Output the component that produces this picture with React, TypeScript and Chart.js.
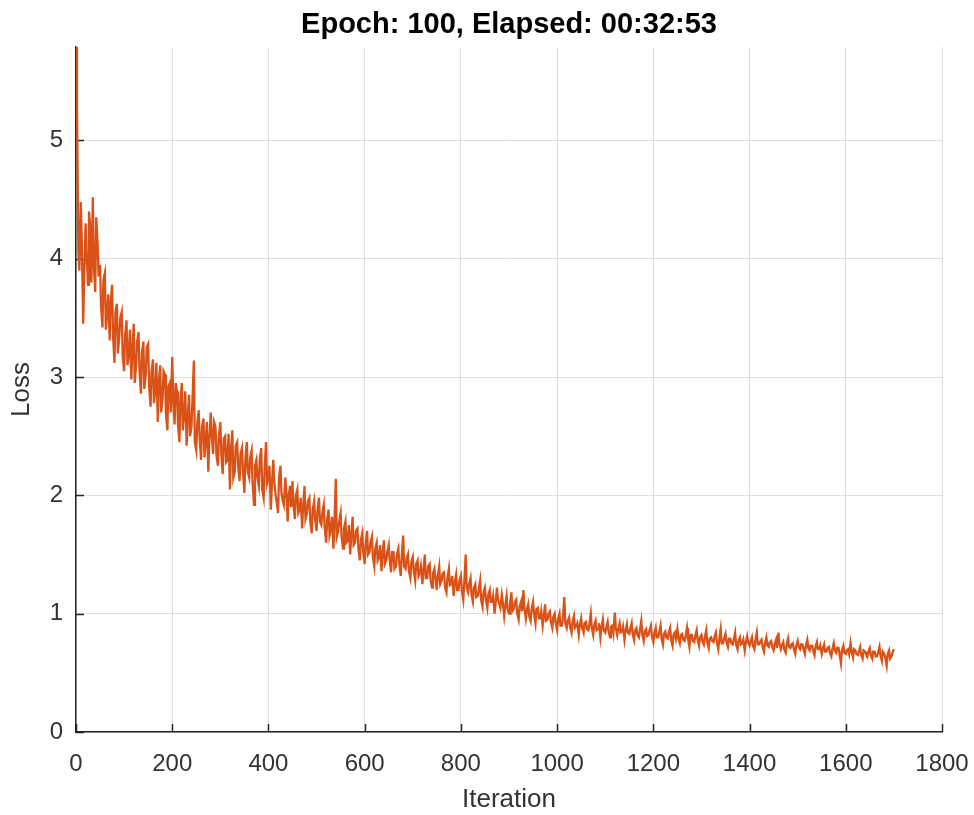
import React, { useEffect, useRef } from "react";
import { Chart, registerables } from "chart.js";

Chart.register(...registerables);

// Loss samples.
// lossValues: iterations 0, 5, 10, ... 1700; midValues: iterations 2, 7, 12, ... 1697
const ITER_STEP = 5;
const MID_OFFSET = 2;

const loss0to495 = [
  5.79, 4.05, 4.48, 3.45, 4.3, 3.78, 4.25, 4.52, 3.72, 4.12,
  3.95, 3.42, 3.88, 3.55, 3.31, 3.78, 3.12, 3.62, 3.35, 3.55,
  3.05, 3.48, 3.2, 2.98, 3.45, 3.1, 3.38, 2.86, 3.3, 3.02,
  3.28, 2.75, 3.15, 2.9, 2.62, 3.1, 2.82, 3.02, 2.55, 2.95,
  3.17, 2.6, 2.88, 2.45, 2.95, 2.7, 2.42, 2.85, 2.58, 3.14,
  2.38, 2.72, 2.3, 2.65, 2.48, 2.2, 2.7, 2.35, 2.58, 2.25,
  2.62, 2.18, 2.5, 2.3, 2.05, 2.55, 2.2, 2.45, 2.12, 2.4,
  2.02, 2.45, 2.15, 2.38, 1.92, 2.3, 2.08, 2.4, 1.98, 2.45,
  2.15, 1.88, 2.3, 2.0, 1.85, 2.25, 1.95, 2.15, 1.78, 2.08,
  2.12, 1.8, 2.05, 1.88, 1.72, 2.08, 1.85, 1.98, 1.68, 1.95,
];

const loss500to995 = [
  1.7, 1.98, 1.75, 1.92, 1.6, 1.88, 1.72, 1.55, 2.14, 1.7,
  1.85, 1.55, 1.78, 1.62, 1.5, 1.82, 1.6, 1.72, 1.45, 1.68,
  1.42, 1.7, 1.52, 1.65, 1.4, 1.6, 1.48, 1.36, 1.62, 1.45,
  1.58, 1.35, 1.52, 1.4, 1.55, 1.32, 1.66, 1.38, 1.5, 1.3,
  1.48, 1.28, 1.45, 1.35, 1.25, 1.5, 1.3, 1.42, 1.22, 1.38,
  1.2, 1.4, 1.28, 1.35, 1.18, 1.38, 1.25, 1.15, 1.33, 1.2,
  1.32, 1.12, 1.5, 1.18, 1.3, 1.1, 1.25, 1.15, 1.28, 1.06,
  1.22, 1.05, 1.2, 1.1, 1.0, 1.22, 1.08, 1.16, 0.98, 1.15,
  1.0, 1.18, 1.04, 1.12, 0.95, 1.1, 1.2, 0.96, 1.08, 0.94,
  1.1, 0.92, 1.05, 0.96, 0.9, 1.08, 0.95, 1.02, 0.88, 1.0,
];

const loss1000to1495 = [
  0.86, 1.0, 0.9, 1.14, 0.88, 0.97, 0.84, 0.98, 0.9, 0.82,
  0.96, 0.84, 0.93, 0.86, 1.0, 0.82, 0.94, 0.87, 0.8, 0.95,
  0.84, 0.93, 0.8, 0.9, 1.01, 0.82, 0.92, 0.85, 0.78, 0.91,
  0.83, 0.92, 0.78, 0.88, 0.8, 0.94, 0.77, 0.87, 0.82, 0.9,
  0.76, 0.88, 0.8, 0.9, 0.74, 0.85, 0.79, 0.88, 0.73, 0.84,
  0.87, 0.75, 0.83, 0.77, 0.88, 0.72, 0.82, 0.76, 0.86, 0.73,
  0.82, 0.74, 0.86, 0.71, 0.8, 0.76, 0.84, 0.7, 0.87, 0.75,
  0.83, 0.72, 0.79, 0.74, 0.84, 0.7, 0.8, 0.75, 0.69, 0.81,
  0.73, 0.8, 0.7, 0.84, 0.74, 0.78, 0.68, 0.8, 0.72, 0.77,
  0.69, 0.78, 0.84, 0.7, 0.76, 0.67, 0.79, 0.71, 0.75, 0.66,
];

const loss1500to1700 = [
  0.77, 0.7, 0.74, 0.66, 0.78, 0.69, 0.73, 0.65, 0.76, 0.7,
  0.66, 0.74, 0.68, 0.72, 0.64, 0.75, 0.67, 0.71, 0.58, 0.73,
  0.66, 0.7, 0.75, 0.63, 0.69, 0.65, 0.72, 0.62, 0.68, 0.64,
  0.71, 0.62, 0.68, 0.64, 0.72, 0.6, 0.66, 0.56, 0.69, 0.64,
  0.7,
];

const mid0to497 = [
  5.3, 3.9, 4.15, 3.85, 4.05, 4.4, 3.8, 3.95, 4.35, 3.85,
  3.6, 3.82, 3.4, 3.7, 3.62, 3.35, 3.55, 3.2, 3.5, 3.18,
  3.35, 3.1, 3.4, 3.22, 2.95, 3.3, 3.05, 3.2, 2.9, 3.25,
  2.92, 3.05, 2.78, 3.12, 2.95, 2.7, 3.05, 2.68, 2.92, 2.7,
  2.82, 2.95, 2.6, 2.8, 2.55, 2.88, 2.65, 2.5, 2.8, 2.45,
  2.6, 2.48, 2.58, 2.32, 2.62, 2.45, 2.52, 2.62, 2.34, 2.5,
  2.35, 2.48, 2.28, 2.52, 2.38, 2.15, 2.42, 2.25, 2.35, 2.2,
  2.3, 2.2, 2.32, 2.1, 2.25, 2.15, 2.3, 2.05, 2.22, 2.1,
  2.25, 2.08, 2.12, 1.95, 2.15, 2.02, 1.92, 2.05, 2.0, 1.9,
  1.92, 2.0, 1.85, 1.98, 1.9, 1.8, 1.95, 1.78, 1.88, 1.8,
];

const mid502to997 = [
  1.88, 1.78, 1.85, 1.72, 1.8, 1.66, 1.82, 1.75, 1.65, 1.78,
  1.65, 1.72, 1.6, 1.75, 1.66, 1.58, 1.7, 1.55, 1.62, 1.52,
  1.58, 1.5, 1.6, 1.48, 1.55, 1.45, 1.58, 1.5, 1.42, 1.52,
  1.45, 1.52, 1.38, 1.5, 1.42, 1.48, 1.4, 1.46, 1.36, 1.44,
  1.36, 1.42, 1.32, 1.4, 1.36, 1.3, 1.4, 1.28, 1.34, 1.3,
  1.32, 1.25, 1.34, 1.22, 1.3, 1.24, 1.32, 1.26, 1.2, 1.28,
  1.2, 1.26, 1.22, 1.25, 1.16, 1.22, 1.14, 1.2, 1.12, 1.18,
  1.12, 1.16, 1.1, 1.15, 1.08, 1.12, 1.05, 1.1, 1.06, 1.04,
  1.08, 1.02, 1.1, 1.0, 1.06, 1.02, 1.05, 1.03, 0.98, 1.04,
  1.0, 1.04, 0.96, 1.02, 0.97, 0.94, 1.0, 0.93, 0.97, 0.92,
];

const mid1002to1497 = [
  0.95, 0.9, 0.96, 0.92, 0.94, 0.89, 0.93, 0.88, 0.92, 0.9,
  0.88, 0.92, 0.87, 0.91, 0.88, 0.9, 0.86, 0.92, 0.88, 0.86,
  0.88, 0.85, 0.89, 0.84, 0.88, 0.87, 0.84, 0.89, 0.85, 0.84,
  0.87, 0.83, 0.86, 0.82, 0.86, 0.83, 0.85, 0.81, 0.86, 0.81,
  0.83, 0.8, 0.84, 0.79, 0.83, 0.8, 0.84, 0.78, 0.82, 0.79,
  0.79, 0.82, 0.78, 0.81, 0.79, 0.82, 0.77, 0.81, 0.78, 0.8,
  0.77, 0.8, 0.76, 0.79, 0.77, 0.8, 0.76, 0.78, 0.75, 0.79,
  0.76, 0.79, 0.75, 0.78, 0.74, 0.77, 0.74, 0.78, 0.75, 0.76,
  0.76, 0.73, 0.77, 0.74, 0.76, 0.72, 0.75, 0.73, 0.76, 0.72,
  0.74, 0.71, 0.75, 0.73, 0.7, 0.74, 0.72, 0.74, 0.7, 0.73,
];

const mid1502to1697 = [
  0.72, 0.74, 0.7, 0.73, 0.71, 0.73, 0.69, 0.72, 0.7, 0.73,
  0.7, 0.68, 0.71, 0.67, 0.7, 0.69, 0.71, 0.66, 0.69, 0.67,
  0.69, 0.66, 0.68, 0.7, 0.66, 0.68, 0.65, 0.69, 0.66, 0.68,
  0.65, 0.68, 0.64, 0.67, 0.65, 0.68, 0.63, 0.66, 0.62, 0.67,
];

const lossValues = [...loss0to495, ...loss500to995, ...loss1000to1495, ...loss1500to1700];
const midValues = [...mid0to497, ...mid502to997, ...mid1002to1497, ...mid1502to1697];

const X_MIN = 0;
const X_MAX = 1800;
const X_STEP = 200;
const Y_MIN = 0;
const Y_MAX = 5.79;
const Y_STEP = 1;

const TITLE = "Epoch: 100, Elapsed: 00:32:53";
const X_LABEL = "Iteration";
const Y_LABEL = "Loss";

const LINE_COLOR = "rgb(217, 83, 25)";
const AXIS_COLOR = "#262626";
const TEXT_COLOR = "#333333";
const GRID_COLOR = "#dfdfdf";
const FONT = "'Liberation Sans', Arial, Helvetica, sans-serif";

const tickMarks = {
  id: "tickMarks",
  beforeDatasetsDraw(chart: any) {
    const { ctx, chartArea } = chart;
    const xs = chart.scales.x;
    const ys = chart.scales.y;
    ctx.save();
    ctx.strokeStyle = AXIS_COLOR;
    ctx.lineWidth = 1.5;
    ctx.beginPath();
    xs.ticks.forEach((t: any) => {
      const px = Math.round(xs.getPixelForValue(t.value)) + 0.5;
      ctx.moveTo(px, chartArea.bottom);
      ctx.lineTo(px, chartArea.bottom - 8);
    });
    ys.ticks.forEach((t: any) => {
      const py = Math.round(ys.getPixelForValue(t.value)) + 0.5;
      ctx.moveTo(chartArea.left, py);
      ctx.lineTo(chartArea.left + 8, py);
    });
    ctx.stroke();
    ctx.restore();
  },
};

const plotTitle = {
  id: "plotTitle",
  afterDraw(chart: any) {
    const { ctx, chartArea } = chart;
    ctx.save();
    ctx.fillStyle = "#000000";
    ctx.font = `bold 29px ${FONT}`;
    ctx.textAlign = "center";
    ctx.textBaseline = "alphabetic";
    ctx.fillText(TITLE, (chartArea.left + chartArea.right) / 2, 33);
    ctx.restore();
  },
};

export default function App() {
  const canvasRef = useRef<HTMLCanvasElement | null>(null);

  useEffect(() => {
    const canvas = canvasRef.current;
    if (!canvas) return;
    const data: { x: number; y: number }[] = [];
    lossValues.forEach((v, i) => {
      data.push({ x: i * ITER_STEP, y: v });
      if (i < midValues.length) data.push({ x: i * ITER_STEP + MID_OFFSET, y: midValues[i] });
    });
    const chart = new Chart(canvas, {
      type: "line",
      data: {
        datasets: [
          {
            data,
            borderColor: LINE_COLOR,
            backgroundColor: LINE_COLOR,
            borderWidth: 2.3,
            pointRadius: 0,
            tension: 0,
            fill: false,
          },
        ],
      },
      options: {
        animation: false,
        responsive: false,
        devicePixelRatio: 1,
        parsing: false,
        normalized: true,
        layout: { padding: { top: 47, left: 0, right: 32, bottom: 0 } },
        plugins: {
          legend: { display: false },
          tooltip: { enabled: false },
          title: { display: false },
        },
        scales: {
          x: {
            type: "linear",
            min: X_MIN,
            max: X_MAX,
            afterFit: (s: any) => {
              s.height = 83;
              s.paddingLeft = 0;
              s.paddingRight = 0;
            },
            ticks: {
              stepSize: X_STEP,
              autoSkip: false,
              maxRotation: 0,
              color: TEXT_COLOR,
              padding: 18,
              font: { family: FONT, size: 24 },
              callback: (v: any) => String(v),
            },
            grid: { color: GRID_COLOR, lineWidth: 1, drawTicks: false },
            border: { display: true, color: AXIS_COLOR, width: 1.5 },
            title: {
              display: true,
              text: X_LABEL,
              color: TEXT_COLOR,
              font: { family: FONT, size: 26 },
              padding: { top: 0, bottom: 0 },
            },
          },
          y: {
            type: "linear",
            min: Y_MIN,
            max: Y_MAX,
            afterFit: (s: any) => {
              s.width = 76;
              s.paddingTop = 0;
              s.paddingBottom = 0;
            },
            ticks: {
              stepSize: Y_STEP,
              includeBounds: false,
              color: TEXT_COLOR,
              padding: 13,
              font: { family: FONT, size: 24 },
              callback: (v: any) => String(v),
            },
            grid: { color: GRID_COLOR, lineWidth: 1, drawTicks: false },
            border: { display: true, color: AXIS_COLOR, width: 1.5 },
            title: {
              display: true,
              text: Y_LABEL,
              color: TEXT_COLOR,
              font: { family: FONT, size: 26 },
              padding: { top: 6, bottom: 0 },
            },
          },
        },
      },
      plugins: [tickMarks, plotTitle],
    } as any);
    return () => chart.destroy();
  }, []);

  return (
    <div style={{ position: "fixed", left: 0, top: 0, width: 974, height: 815, background: "#ffffff" }}>
      <canvas ref={canvasRef} width={974} height={815} style={{ display: "block" }} />
    </div>
  );
}
